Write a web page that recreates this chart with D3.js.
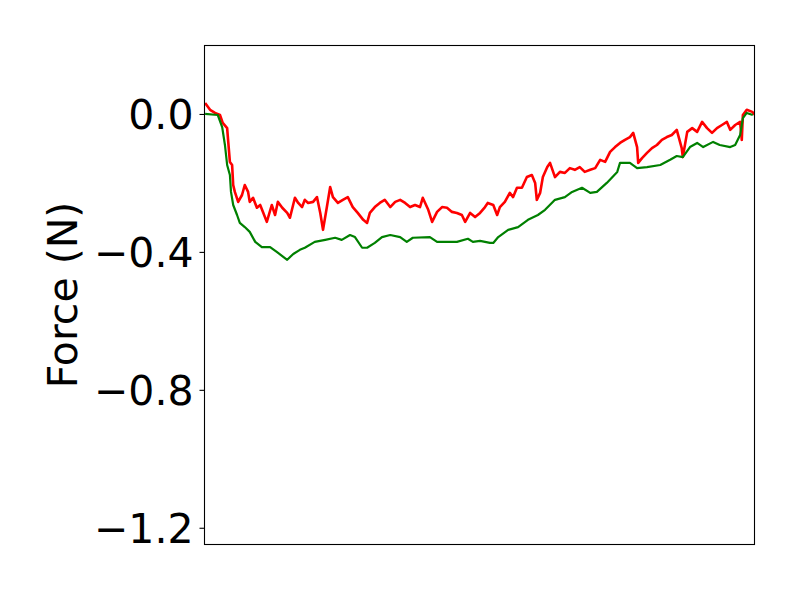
<!DOCTYPE html>
<html>
<head>
<meta charset="utf-8">
<script src="https://cdn.jsdelivr.net/npm/d3@7"></script>
<style>
  html, body { margin: 0; padding: 0; background: #fff; }
  svg { display: block; }
</style>
</head>
<body>
<svg id="chart" width="800" height="600"></svg>
<script>
// Time (arbitrary units, 0-100) and force (N) samples
const greenT = [0.2,2.5,3.3,3.8,4.2,4.7,4.9,5.3,6.0,6.5,7.4,8.3,9.3,10.5,12.0,13.2,15.1,16.2,17.4,18.3,20.1,22.0,23.8,25.0,26.5,27.4,28.7,29.6,31.0,32.3,33.8,35.6,36.8,37.9,41.0,42.3,45.9,47.9,48.8,50.1,51.9,52.5,53.4,55.2,57.0,58.8,60.6,61.9,63.7,65.5,66.8,68.6,70.1,71.3,73.1,75.0,75.5,77.3,78.6,80.4,82.8,84.6,85.8,86.9,88.2,89.5,90.6,92.4,93.6,95.5,96.4,97.3,97.8,98.5,99.6];
const greenF = [0.000,-0.003,-0.038,-0.090,-0.148,-0.177,-0.226,-0.264,-0.293,-0.316,-0.328,-0.342,-0.371,-0.386,-0.386,-0.400,-0.423,-0.406,-0.394,-0.388,-0.371,-0.365,-0.359,-0.365,-0.351,-0.357,-0.388,-0.388,-0.374,-0.357,-0.351,-0.357,-0.371,-0.359,-0.357,-0.371,-0.371,-0.362,-0.371,-0.368,-0.374,-0.374,-0.357,-0.336,-0.328,-0.307,-0.293,-0.278,-0.249,-0.241,-0.226,-0.214,-0.229,-0.226,-0.200,-0.168,-0.142,-0.142,-0.157,-0.154,-0.148,-0.133,-0.122,-0.125,-0.096,-0.084,-0.096,-0.081,-0.090,-0.096,-0.090,-0.061,-0.012,0.003,-0.003];

const redT = [0.2,1.1,2.0,2.9,3.4,4.2,4.4,4.7,5.1,5.3,5.6,6.2,6.9,7.4,8.0,8.3,8.9,9.6,10.2,10.7,11.4,12.3,12.9,13.4,14.2,15.1,15.6,16.5,17.1,17.8,18.3,18.9,19.8,20.5,21.1,21.6,22.3,22.9,23.4,24.3,25.2,26.1,27.0,27.9,28.9,29.6,30.1,31.0,31.9,32.8,33.8,34.7,35.6,36.5,37.4,38.3,39.2,39.7,40.7,41.4,42.3,43.2,44.1,45.0,45.9,46.8,47.4,48.3,49.2,50.1,51.0,51.5,52.5,53.2,53.7,54.6,55.5,56.1,56.8,57.7,58.6,59.5,60.1,60.4,61.0,61.5,62.3,62.8,63.7,64.6,65.5,66.4,67.3,68.2,69.1,70.1,71.0,71.9,72.8,73.7,74.6,75.5,76.4,77.3,77.9,78.6,78.8,79.5,80.4,81.3,82.2,83.1,84.0,84.9,85.8,86.7,86.9,87.7,88.6,89.5,90.4,91.3,92.2,93.1,94.0,94.9,95.5,96.4,97.3,97.6,97.8,98.5,99.5,100.0];
const redF = [0.032,0.012,0.003,-0.003,-0.026,-0.041,-0.081,-0.139,-0.148,-0.206,-0.226,-0.255,-0.235,-0.206,-0.226,-0.255,-0.243,-0.272,-0.264,-0.284,-0.313,-0.264,-0.293,-0.255,-0.272,-0.287,-0.301,-0.243,-0.258,-0.270,-0.249,-0.258,-0.255,-0.241,-0.287,-0.336,-0.270,-0.212,-0.241,-0.258,-0.249,-0.241,-0.270,-0.287,-0.307,-0.316,-0.287,-0.270,-0.258,-0.249,-0.270,-0.255,-0.249,-0.258,-0.270,-0.264,-0.270,-0.243,-0.278,-0.313,-0.284,-0.270,-0.272,-0.284,-0.287,-0.293,-0.313,-0.287,-0.299,-0.287,-0.270,-0.258,-0.264,-0.293,-0.270,-0.255,-0.229,-0.241,-0.214,-0.214,-0.183,-0.177,-0.200,-0.249,-0.229,-0.183,-0.154,-0.142,-0.183,-0.168,-0.171,-0.157,-0.162,-0.154,-0.168,-0.162,-0.157,-0.133,-0.139,-0.110,-0.096,-0.084,-0.075,-0.067,-0.055,-0.096,-0.142,-0.128,-0.113,-0.099,-0.090,-0.075,-0.067,-0.061,-0.046,-0.099,-0.125,-0.052,-0.041,-0.052,-0.023,-0.041,-0.055,-0.041,-0.032,-0.023,-0.046,-0.032,-0.023,-0.075,-0.003,0.012,0.006,-0.003];

const yTicks = [0.0, -0.4, -0.8, -1.2];
const yLabel = "Force (N)";

const mLeft = 204, mRight = 755, mTop = 45, mBottom = 545;
const svg = d3.select("#chart");

const x = d3.scaleLinear().domain([0, 100]).range([mLeft, mRight]);
const y = d3.scaleLinear().domain([-1.25, 0.2]).range([mBottom, mTop]);

svg.append("clipPath").attr("id", "plotclip")
  .append("rect").attr("x", mLeft).attr("y", mTop)
  .attr("width", mRight - mLeft).attr("height", mBottom - mTop);

const line = d3.line().x(d => x(d[0])).y(d => y(d[1]));

const g = svg.append("g").attr("clip-path", "url(#plotclip)");
g.append("path")
  .datum(redT.map((t, i) => [t, redF[i]]))
  .attr("d", line).attr("fill", "none")
  .attr("stroke", "#ff0000").attr("stroke-width", 2.6)
  .attr("stroke-linejoin", "round");
g.append("path")
  .datum(greenT.map((t, i) => [t, greenF[i]]))
  .attr("d", line).attr("fill", "none")
  .attr("stroke", "#008000").attr("stroke-width", 2.2)
  .attr("stroke-linejoin", "round");

// frame
svg.append("rect")
  .attr("x", mLeft + 0.5).attr("y", mTop + 0.5)
  .attr("width", mRight - mLeft - 1).attr("height", mBottom - mTop - 1)
  .attr("fill", "none").attr("stroke", "#000").attr("stroke-width", 1.1);

// y axis
const fmt = v => (v < 0 ? "\u2212" : "") + Math.abs(v).toFixed(1);
const ax = svg.append("g").attr("transform", `translate(${mLeft + 0.5},0)`)
  .call(d3.axisLeft(y).tickValues(yTicks).tickSize(5).tickPadding(6).tickFormat(fmt));
ax.select(".domain").remove();
ax.selectAll(".tick line").attr("stroke", "#000").attr("stroke-width", 1.1);
ax.selectAll(".tick text")
  .attr("font-family", "DejaVu Sans, sans-serif")
  .attr("font-size", 41)
  .attr("fill", "#000")
  .attr("dy", "0.36em");

svg.append("text")
  .attr("transform", `translate(77,${(mTop + mBottom) / 2}) rotate(-90)`)
  .attr("text-anchor", "middle")
  .attr("font-family", "DejaVu Sans, sans-serif")
  .attr("font-size", 41)
  .attr("fill", "#000")
  .text(yLabel);
</script>
</body>
</html>
